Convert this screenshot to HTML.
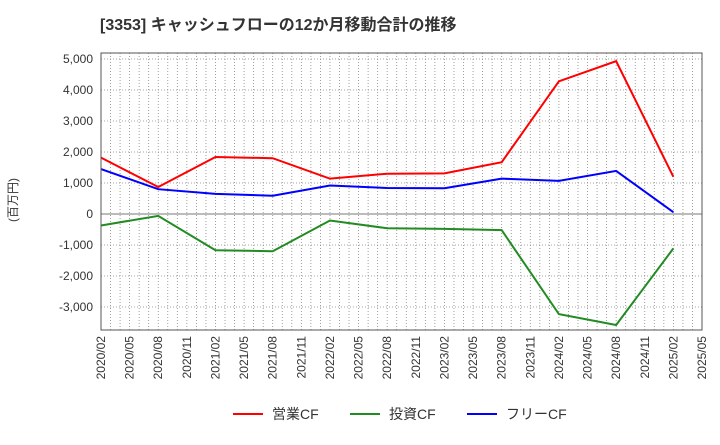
<!DOCTYPE html>
<html><head><meta charset="utf-8"><style>
body{margin:0;background:#fff;font-family:"Liberation Sans","Noto Sans CJK JP",sans-serif}
svg text{font-family:"Liberation Sans","Noto Sans CJK JP",sans-serif}
</style></head><body>
<svg id="c" width="720" height="440" xmlns="http://www.w3.org/2000/svg">
<text x="100" y="30" font-size="16" font-weight="bold" fill="#333">[3353]  キャッシュフローの12か月移動合計の推移</text>
<text transform="translate(17,200) rotate(-90)" text-anchor="middle" font-size="12" fill="#333">(百万円)</text>
<g id="grid"></g><g id="series"></g><g id="axes"></g>
<g>
<line x1="233" y1="414" x2="263" y2="414" stroke="#ff0000" stroke-width="2"/><text x="272" y="419" font-size="14" fill="#333">営業CF</text>
<line x1="350" y1="414" x2="380" y2="414" stroke="#228b22" stroke-width="2"/><text x="389" y="419" font-size="14" fill="#333">投資CF</text>
<line x1="467" y1="414" x2="497" y2="414" stroke="#0000ff" stroke-width="2"/><text x="506" y="419" font-size="14" fill="#333">フリーCF</text>
</g>
</svg>
<script>
const dates=["2020/02","2020/08","2021/02","2021/08","2022/02","2022/08","2023/02","2023/08","2024/02","2024/08","2025/02"];
const operatingCF=[1820,870,1840,1800,1140,1300,1310,1670,4280,4930,1200];
const investingCF=[-370,-60,-1170,-1200,-210,-460,-480,-520,-3230,-3580,-1110];
const freeCF=[1450,800,650,590,920,840,830,1140,1070,1390,60];
const yTicks=[-3000,-2000,-1000,0,1000,2000,3000,4000,5000];
const NS="http://www.w3.org/2000/svg";
const L=101,R=702,T=53,B=330;
const startM=2020*12+1,endM=2025*12+4;
function mi(s){const[a,b]=s.split("/").map(Number);return a*12+b-1;}
function x(m){return L+(m-startM)/(endM-startM)*(R-L);}
function y(v){return 214-v*0.031;}
function mk(t,a,p){const e=document.createElementNS(NS,t);for(const k in a)e.setAttribute(k,a[k]);p.appendChild(e);return e;}
const g=document.getElementById("grid"),ax=document.getElementById("axes"),s=document.getElementById("series");
for(let m=startM;m<=endM;m++){const l=mk("line",{x1:x(m),x2:x(m),y1:T,y2:B,stroke:"#888","stroke-width":0.8,"stroke-dasharray":"1,2"},g);

}
yTicks.forEach(v=>{const l=mk("line",{x1:L,x2:R,y1:y(v),y2:y(v),stroke:v===0?"#777":"#888","stroke-width":v===0?1:0.8,"stroke-dasharray":v===0?"":"1,2"},g);


const t=mk("text",{x:L-8,y:y(v)+4,"text-anchor":"end","font-size":12,fill:"#333"},ax);t.textContent=v.toLocaleString("en-US");

});
const f=mk("rect",{x:L,y:T,width:R-L,height:B-T,fill:"none",stroke:"#555","stroke-width":1},ax);


for(let m=startM;m<=endM;m+=3){const yy=Math.floor(m/12),mm=m%12+1;const lab=yy+"/"+String(mm).padStart(2,"0");
const t=mk("text",{transform:`translate(${x(m)+4},${B+6}) rotate(-90)`,"text-anchor":"end","font-size":12,fill:"#333"},ax);t.textContent=lab;

}
[[operatingCF,"#ff0000","operating-cf-line"],[investingCF,"#228b22","investing-cf-line"],[freeCF,"#0000ff","free-cf-line"]].forEach(([d,c,n])=>{
const p=mk("polyline",{points:d.map((v,i)=>x(mi(dates[i]))+","+y(v)).join(" "),fill:"none",stroke:c,"stroke-width":2},s);

});
</script>
</body></html>
